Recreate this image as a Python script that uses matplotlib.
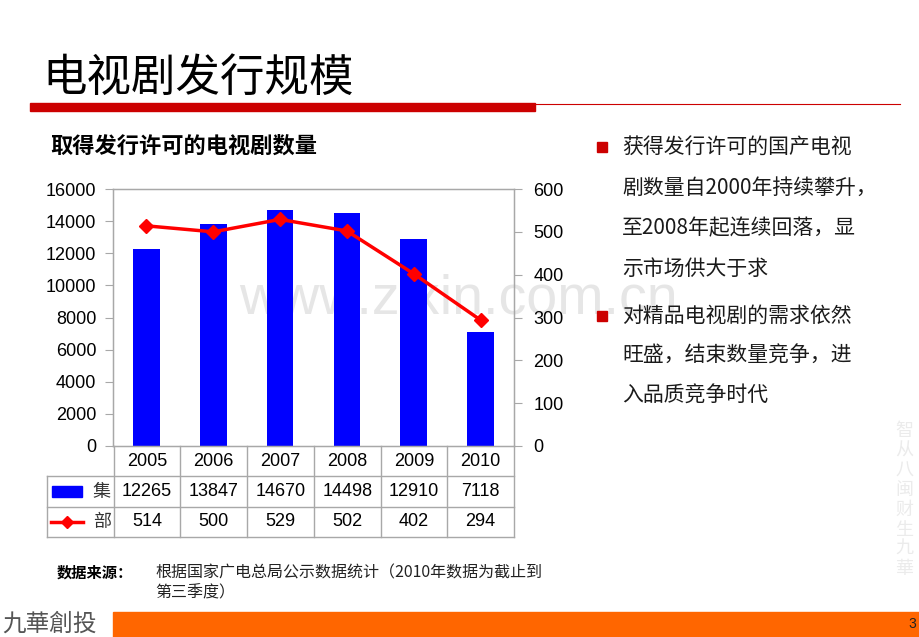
import matplotlib
matplotlib.use("Agg")
import matplotlib.pyplot as plt
from matplotlib.patches import Rectangle
from matplotlib.lines import Line2D

plt.rcParams['font.family'] = ['Liberation Sans', 'Noto Sans CJK SC', 'DejaVu Sans']

# ---------------- data ----------------
years = ['2005', '2006', '2007', '2008', '2009', '2010']
episodes = [12265, 13847, 14670, 14498, 12910, 7118]   # 集
series = [514, 500, 529, 502, 402, 294]                # 部
left_ticks = [0, 2000, 4000, 6000, 8000, 10000, 12000, 14000, 16000]
right_ticks = [0, 100, 200, 300, 400, 500, 600]
title = '电视剧发行规模'
subtitle = '取得发行许可的电视剧数量'
bullets = [
    ['获得发行许可的国产电视', '剧数量自2000年持续攀升，', '至2008年起连续回落，显', '示市场供大于求'],
    ['对精品电视剧的需求依然', '旺盛，结束数量竞争，进', '入品质竞争时代'],
]
source_label = '数据来源：'
source_lines = ['根据国家广电总局公示数据统计（2010年数据为截止到', '第三季度）']
footer = '九華創投'
page = '3'
watermark = 'www.zixin.com.cn'
side_text = '智从八闽 财生九華'

W, H = 920, 637
fig = plt.figure(figsize=(W / 100, H / 100), dpi=100)
fig.patch.set_facecolor('white')

def fx(x):
    return x / W

def fy(y):
    return 1 - y / H

CJK = ['Noto Sans CJK SC', 'DejaVu Sans']
GRID = '#A8A8A8'

# watermark (behind everything)
fig.text(fx(458), fy(300), watermark, fontsize=40, color='#E6E6E6',
         ha='center', va='center', family=['Liberation Sans'], zorder=-5)

# side calligraphy (faint vertical)
fig.text(fx(904), fy(500), '\n'.join(side_text.replace(' ', '')), fontsize=13,
         color='#EBEBEB', ha='center', va='center', family=CJK, linespacing=1.12,
         style='italic', zorder=-5)

# title and red rule
fig.text(fx(42), fy(78), title, fontsize=32, color='black', ha='left', va='center', family=CJK)
fig.patches.append(Rectangle((fx(30), fy(111)), fx(535) - fx(30), fy(103) - fy(111),
                             transform=fig.transFigure, color='#CC0000', zorder=2))
fig.lines.append(Line2D([fx(535), fx(900)], [fy(104), fy(104)], transform=fig.transFigure,
                        color='#CC0000', lw=0.8))

# subtitle
fig.text(fx(50), fy(146), subtitle, fontsize=16, fontweight='bold', ha='left', va='center', family=CJK)

# ---------------- main chart ----------------
ax = fig.add_axes([fx(113), fy(446), fx(514) - fx(113), fy(189) - fy(446)])
ax.patch.set_alpha(0)
x = list(range(len(years)))
ax.bar(x, episodes, width=0.4, color='#0000FF', zorder=2)
ax.set_xlim(-0.5, len(years) - 0.5)
ax.set_ylim(0, 16000)
ax.set_yticks(left_ticks)
ax.set_yticklabels([str(t) for t in left_ticks], fontsize=13)
ax.set_xticks([])
for s in ax.spines.values():
    s.set_color(GRID)
    s.set_linewidth(1)
ax.tick_params(axis='y', length=6, color=GRID, pad=6, direction='out')

ax2 = ax.twinx()
ax2.plot(x, series, color='#FF0000', lw=2.5, marker='D', markersize=7, zorder=3)
ax2.set_ylim(0, 600)
ax2.set_yticks(right_ticks)
ax2.set_yticklabels([str(t) for t in right_ticks], fontsize=13)
ax2.tick_params(axis='y', length=6, color=GRID, pad=8, direction='out')
for s in ax2.spines.values():
    s.set_color(GRID)
ax2.set_xlim(-0.5, len(years) - 0.5)

# ---------------- data table ----------------
axt = fig.add_axes([fx(47), fy(537), fx(514) - fx(47), fy(446) - fy(537)])
axt.set_xlim(-1.5, len(years) - 0.5)
axt.set_ylim(0, 3)
axt.axis('off')
n = len(years)
for i in range(n + 1):
    axt.plot([i - 0.5, i - 0.5], [0, 3], color=GRID, lw=1, clip_on=False)
axt.plot([-1.5, -1.5], [0, 2], color=GRID, lw=1, clip_on=False)
for yv in (0, 1, 2):
    axt.plot([-1.5, n - 0.5], [yv, yv], color=GRID, lw=1, clip_on=False)
for i, yr in enumerate(years):
    axt.text(i, 2.5, yr, ha='center', va='center', fontsize=13)
    axt.text(i, 1.5, str(episodes[i]), ha='center', va='center', fontsize=13)
    axt.text(i, 0.5, str(series[i]), ha='center', va='center', fontsize=13)
# legend keys
axt.add_patch(Rectangle((-1.42, 1.33), 0.44, 0.34, color='#0000FF'))
axt.text(-0.68, 1.5, '集', ha='center', va='center', fontsize=13, family=CJK, color='#333333')
axt.plot([-1.44, -0.96], [0.5, 0.5], color='#FF0000', lw=2.5)
axt.plot([-1.2], [0.5], marker='D', color='#FF0000', markersize=6)
axt.text(-0.68, 0.5, '部', ha='center', va='center', fontsize=13, family=CJK, color='#333333')

# ---------------- bullets ----------------
line_y = [[147, 188, 228, 269], [316, 356, 396]]
for blk, ys in zip(bullets, line_y):
    fig.patches.append(Rectangle((fx(597), fy(ys[0] + 5)), fx(607) - fx(597), fy(ys[0] - 5) - fy(ys[0] + 5),
                                 transform=fig.transFigure, color='#CC0000'))
    for t, yy in zip(blk, ys):
        fig.text(fx(622), fy(yy), t, fontsize=15, ha='left', va='center', family=CJK, color='#1a1a1a')

# ---------------- source ----------------
fig.text(fx(57), fy(573), source_label, fontsize=11, fontweight='bold', ha='left', va='center', family=CJK)
fig.text(fx(155), fy(573), source_lines[0], fontsize=11.5, ha='left', va='center', family=CJK, color='#222222')
fig.text(fx(155), fy(593), source_lines[1], fontsize=11.5, ha='left', va='center', family=CJK, color='#222222')

# ---------------- footer ----------------
fig.patches.append(Rectangle((fx(113), fy(637)), 1 - fx(113), fy(612) - fy(637),
                             transform=fig.transFigure, color='#FF6600'))
fig.text(fx(2), fy(624), footer, fontsize=17, ha='left', va='center', family=CJK, color='#555555')
fig.text(fx(912), fy(624), page, fontsize=10, ha='center', va='center', color='#222222')

fig.savefig('out.png', dpi=100)
